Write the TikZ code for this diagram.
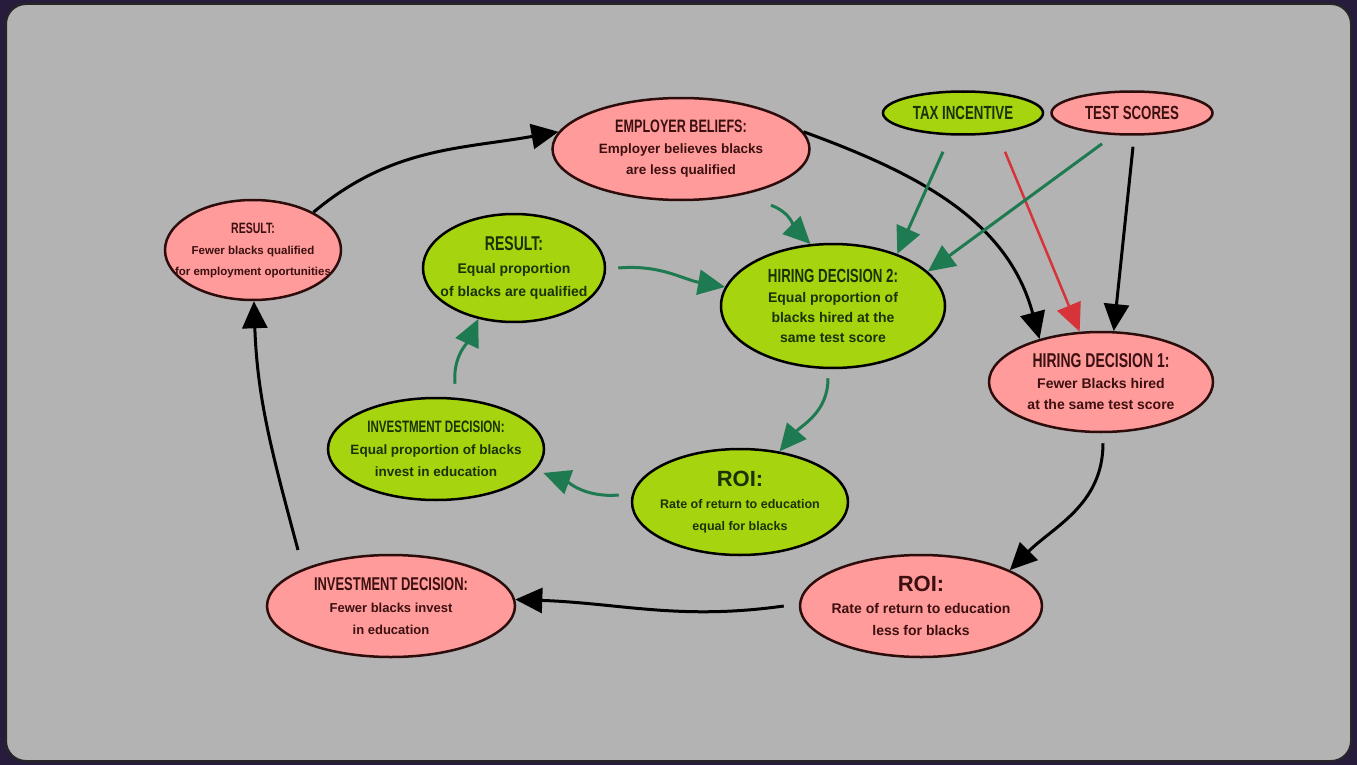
\documentclass[tikz,border=0pt]{standalone}
\usepackage{fontspec}
\setmainfont{Liberation Sans}
\newfontfamily\condfont{Liberation Sans}[FakeStretch=0.7]
\usetikzlibrary{shapes.geometric,arrows.meta}
\definecolor{outerbg}{RGB}{40,28,60}
\definecolor{panelgrey}{RGB}{179,179,179}
\definecolor{pinkfill}{RGB}{255,155,155}
\definecolor{pinkline}{RGB}{45,12,12}
\definecolor{pinktext}{RGB}{60,16,16}
\definecolor{greenfill}{RGB}{166,212,14}
\definecolor{greentext}{RGB}{26,50,6}
\definecolor{arrowgreen}{RGB}{30,122,80}
\definecolor{arrowred}{RGB}{214,52,56}
\newcommand{\ttl}[2]{{\condfont\fontsize{#1}{#1}\selectfont #2}}
\newcommand{\bsize}[2]{\bfseries\fontsize{#1}{#2}\selectfont}
\begin{document}
\begin{tikzpicture}[x=1pt,y=-1pt,
  pinkbox/.style={ellipse, draw=pinkline, fill=pinkfill, text=pinktext, line width=2.5pt, align=center, inner xsep=-22pt, inner ysep=-6pt},
  greenbox/.style={ellipse, draw=black, fill=greenfill, text=greentext, line width=2.5pt, align=center, inner xsep=-22pt, inner ysep=-6pt},
  blackarrow/.style={-{Triangle[length=27pt,width=25pt]}, line width=3pt, black},
  greenarrow/.style={-{Triangle[length=27pt,width=25pt]}, line width=3pt, arrowgreen},
  redarrow/.style={-{Triangle[length=28pt,width=25pt]}, line width=2.5pt, arrowred}]
\fill[outerbg] (0,0) rectangle (1357,765);
\draw[fill=panelgrey, draw=black!85, line width=2pt, rounded corners=20pt] (6,4) rectangle (1351,761);

% outer loop
\node[pinkbox, minimum width=257pt, minimum height=102pt, font=\bsize{13.5}{21}] (empB) at (681,149)
  {\ttl{18}{EMPLOYER BELIEFS:}\\Employer believes blacks\\are less qualified};
\node[pinkbox, minimum width=176pt, minimum height=100pt, font=\bsize{11.5}{21}] (resL) at (253,250)
  {\ttl{15}{RESULT:}\\Fewer blacks qualified\\for employment oportunities};
\node[pinkbox, minimum width=224pt, minimum height=100pt, font=\bsize{14}{21}] (hd1) at (1101,382)
  {\ttl{20}{HIRING DECISION 1:}\\Fewer Blacks hired\\at the same test score};
\node[pinkbox, minimum width=242pt, minimum height=102pt, font=\bsize{14}{22}] (roiP) at (921,606)
  {{\fontsize{22}{22}\selectfont ROI:}\\Rate of return to education\\less for blacks};
\node[pinkbox, minimum width=248pt, minimum height=102pt, font=\bsize{13}{22}] (invP) at (391,606)
  {\ttl{18.5}{INVESTMENT DECISION:}\\Fewer blacks invest\\in education};
\node[pinkbox, minimum width=161pt, minimum height=43pt, font=\bfseries] (testS) at (1132,113)
  {\ttl{19}{TEST SCORES}};

% inner loop
\node[greenbox, minimum width=160pt, minimum height=43pt, font=\bfseries] (taxI) at (963,113)
  {\ttl{19}{TAX INCENTIVE}};
\node[greenbox, minimum width=224pt, minimum height=124pt, font=\bsize{14}{20}] (hd2) at (833,306)
  {\ttl{19}{HIRING DECISION 2:}\\Equal proportion of\\blacks hired at the\\same test score};
\node[greenbox, minimum width=182pt, minimum height=108pt, font=\bsize{14}{23}] (resG) at (514,268)
  {\ttl{20}{RESULT:}\\Equal proportion\\of blacks are qualified};
\node[greenbox, minimum width=216pt, minimum height=102pt, font=\bsize{13.5}{22}] (invG) at (436,449)
  {\ttl{16.5}{INVESTMENT DECISION:}\\Equal proportion of blacks\\invest in education};
\node[greenbox, minimum width=216pt, minimum height=106pt, font=\bsize{12.5}{22}] (roiG) at (740,502)
  {{\fontsize{22}{22}\selectfont ROI:}\\Rate of return to education\\equal for blacks};

\draw[blackarrow] (resL.32) to[out=40,in=190] (empB.172);
\draw[blackarrow] (empB.8) to[out=-20,in=105] (hd1.145);
\draw[redarrow] ([shift={(42,16)}]taxI.south) -- (hd1.113);
\draw[blackarrow] ([shift={(1,11)}]testS.south) -- (hd1.76);
\draw[blackarrow] ([shift={(2,10)}]hd1.south) to[out=-90,in=45] (roiP.22);
\draw[blackarrow] ([xshift=-15pt]roiP.west) to[out=188,in=-2] (invP.3);
\draw[blackarrow] ([shift={(-93,-56)}]invP.center) to[out=105,in=-88] (resL.-89);

\draw[greenarrow] ([shift={(-20,16)}]taxI.south) -- (hd2.39);
\draw[greenarrow] ([shift={(-30,8)}]testS.south) -- (hd2.20);
\draw[greenarrow] ([shift={(90,4)}]empB.south) to[out=-20,in=135] (hd2.110);
\draw[greenarrow] ([xshift=12pt]resG.east) to[out=5,in=170] (hd2.170);
\draw[greenarrow] ([shift={(-5,9)}]hd2.south) to[out=-90,in=50] (roiG.52);
\draw[greenarrow, shorten >=8pt] ([shift={(-12,-7)}]roiG.west) to[out=185,in=-20] (invG.-12);
\draw[greenarrow] ([shift={(19,-13)}]invG.north) to[out=95,in=-115] (resG.-125);
\end{tikzpicture}
\end{document}
